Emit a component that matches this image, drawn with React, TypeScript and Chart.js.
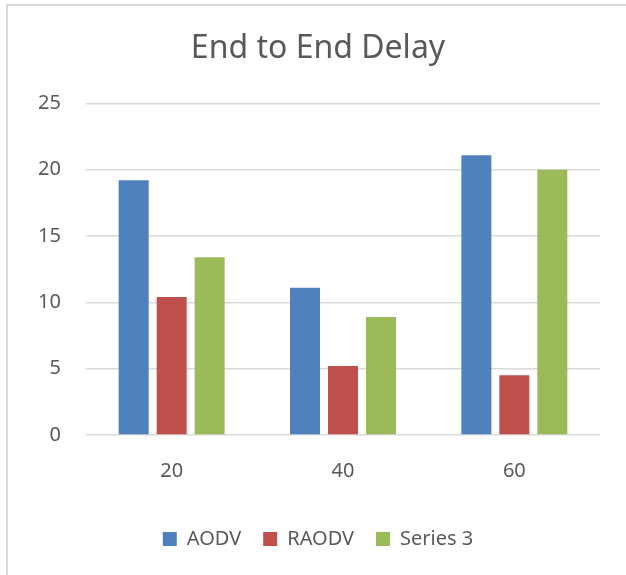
import React, { useEffect, useRef } from "react";
import { Chart, registerables } from "chart.js";

Chart.register(...registerables);

const categories = ["20", "40", "60"];
const seriesNames = ["AODV", "RAODV", "Series 3"];
const aodv = [19.2, 11.1, 21.1];
const raodv = [10.4, 5.2, 4.5];
const series3 = [13.4, 8.9, 20.0];
const colors = ["#4F81BD", "#C0504D", "#9BBB59"];
const titleText = "End to End Delay";

export default function App() {
  const ref = useRef<HTMLCanvasElement | null>(null);

  useEffect(() => {
    if (!ref.current) return;
    const font = "'Noto Sans', sans-serif";
    const chart = new Chart(ref.current, {
      type: "bar",
      data: {
        labels: categories,
        datasets: [aodv, raodv, series3].map((d, i) => ({
          label: seriesNames[i],
          data: d,
          backgroundColor: colors[i],
          borderWidth: 0,
          categoryPercentage: 0.665,
          barPercentage: 0.79,
        })),
      },
      options: {
        responsive: false,
        animation: false,
        devicePixelRatio: 1,
        layout: { padding: { left: 36, right: 26, top: 0, bottom: 16 } },
        plugins: {
          title: {
            display: true,
            text: titleText,
            color: "#595959",
            font: { family: font, size: 32, weight: "normal", lineHeight: 1.2 },
            padding: { top: 30, bottom: 35 },
          },
          legend: {
            position: "bottom",
            labels: {
              boxWidth: 14,
              boxHeight: 14,
              padding: 22,
              color: "#595959",
              font: { family: font, size: 20 },
            },
          },
          tooltip: { enabled: false },
        },
        scales: {
          x: {
            grid: { display: false, drawTicks: false },
            border: { display: false },
            ticks: {
              color: "#595959",
              font: { family: font, size: 20 },
              padding: 24,
            },
          },
          y: {
            min: 0,
            max: 25,
            grid: { color: "#d9d9d9", lineWidth: 1.5, drawTicks: false },
            border: { display: false },
            ticks: {
              stepSize: 5,
              color: "#595959",
              font: { family: font, size: 20 },
              padding: 25,
            },
            afterFit: (scale: any) => {
              scale.width = 50;
            },
          },
        },
      },
    });
    return () => chart.destroy();
  }, []);

  return (
    <div style={{ position: "fixed", left: 0, top: 0, width: 626, height: 575, overflow: "hidden", background: "#fff" }}>
      <div
        style={{
          position: "absolute",
          left: 6,
          top: 4,
          width: 700,
          height: 700,
          border: "2px solid #d9d9d9",
          boxSizing: "border-box",
        }}
      />
      <canvas ref={ref} width={626} height={575} style={{ position: "absolute", left: 0, top: 0, width: 626, height: 575 }} />
    </div>
  );
}
